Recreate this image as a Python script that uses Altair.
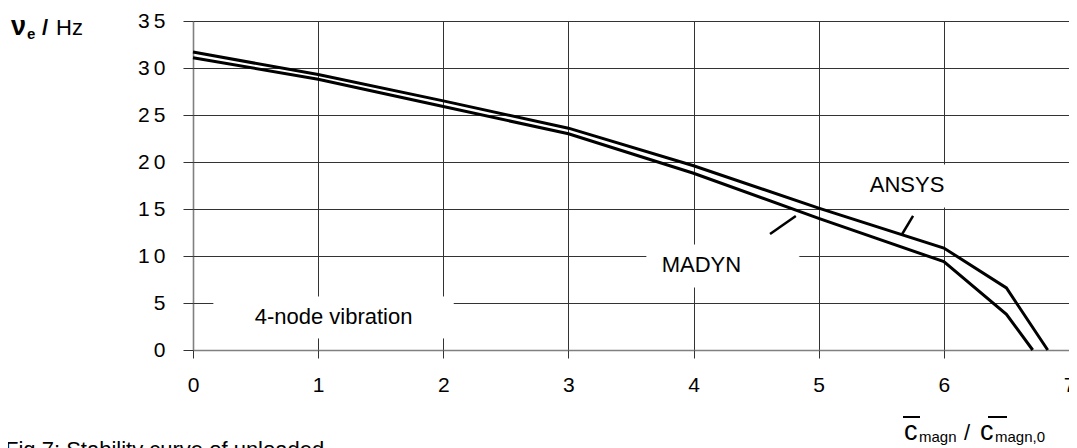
import altair as alt
import pandas as pd

FONT = "Liberation Sans"

# --- data ---
x_ansys = [0, 1, 2, 3, 4, 5, 6, 6.5, 6.79, 6.83]
y_ansys = [31.7, 29.3, 26.5, 23.6, 19.6, 15.1, 10.85, 6.6, 0.8, 0.0]
x_madyn = [0, 1, 2, 3, 4, 5, 6, 6.5, 6.71]
y_madyn = [31.1, 28.8, 25.9, 23.0, 18.8, 14.0, 9.4, 3.8, 0.0]

x_ticks = [0, 1, 2, 3, 4, 5, 6, 7]
y_ticks = [0, 5, 10, 15, 20, 25, 30, 35]

# annotations (data coordinates)
label_text = ["ANSYS", "MADYN", "4-node vibration"]
label_x = [5.706, 4.063, 1.123]
label_y = [17.55, 8.99, 3.46]

box_x1 = [5.29, 3.627, 0.167]
box_x2 = [6.33, 4.841, 2.079]
box_y1 = [15.21, 6.70, 1.28]
box_y2 = [19.68, 11.17, 5.64]

leader_x1 = [5.754, 4.817]
leader_y1 = [14.26, 14.26]
leader_x2 = [5.667, 4.611]
leader_y2 = [12.34, 12.34]

curves = pd.concat([
    pd.DataFrame({"x": x_ansys, "y": y_ansys, "s": "ANSYS"}),
    pd.DataFrame({"x": x_madyn, "y": y_madyn, "s": "MADYN"}),
])
boxes = pd.DataFrame({"x1": box_x1, "x2": box_x2, "y1": box_y1, "y2": box_y2})
leaders = pd.DataFrame({"x1": leader_x1, "y1": leader_y1, "x2": leader_x2, "y2": leader_y2})
labels = pd.DataFrame({"t": label_text, "x": label_x, "y": label_y})

gridcol = {"condition": {"test": "datum.value === 0", "value": "#808080"}, "value": "#333333"}
gridw = {"condition": {"test": "datum.value === 0", "value": 1.6}, "value": 1}

xs = alt.Scale(domain=[0, 7], nice=False, zero=False)
ys = alt.Scale(domain=[0, 35], nice=False, zero=False)

xaxis = alt.Axis(values=x_ticks, grid=True, gridColor=gridcol, gridWidth=gridw, domain=False,
                 tickSize=8, tickColor="#333333", labelFont=FONT, labelFontSize=21,
                 labelColor="black", labelPadding=16, labelFlush=False, title=None, format="d")
yaxis = alt.Axis(values=y_ticks, grid=True, gridColor=gridcol, gridWidth=gridw, domain=False,
                 tickSize=10, tickColor="#333333", labelFont=FONT, labelFontSize=21,
                 labelColor="black", labelPadding=18, labelFlush=False, title=None,
                 labelExpr="join(split(datum.label, ''), '\u2009')")

base_lines = alt.Chart(curves).mark_line(strokeWidth=3, color="black").encode(
    x=alt.X("x:Q", scale=xs, axis=xaxis),
    y=alt.Y("y:Q", scale=ys, axis=yaxis),
    detail="s:N",
)

rects = alt.Chart(boxes).mark_rect(fill="white", stroke="white").encode(
    x=alt.X("x1:Q", scale=xs), x2="x2:Q",
    y=alt.Y("y1:Q", scale=ys), y2="y2:Q",
)

leader_rules = alt.Chart(leaders).mark_rule(strokeWidth=2.5, color="black").encode(
    x=alt.X("x1:Q", scale=xs), y=alt.Y("y1:Q", scale=ys), x2="x2:Q", y2="y2:Q",
)

text_labels = alt.Chart(labels).mark_text(font=FONT, fontSize=22, color="black",
                                          align="center", baseline="middle").encode(
    x=alt.X("x:Q", scale=xs), y=alt.Y("y:Q", scale=ys), text="t:N",
)


def piece(txt, px, py, size, weight="normal"):
    return alt.Chart(pd.DataFrame({"t": [txt]})).mark_text(
        font=FONT, fontSize=size, fontWeight=weight, align="left",
        baseline="alphabetic", color="black").encode(
        x=alt.value(px), y=alt.value(py), text="t:N")


def overline(px1, px2, py):
    return alt.Chart(pd.DataFrame({"t": [0]})).mark_rule(strokeWidth=2, color="black").encode(
        x=alt.value(px1), x2=alt.value(px2), y=alt.value(py), y2=alt.value(py))


titles = [
    piece("\u03bd", -182, 14, 27, "bold"),
    piece("e", -166, 18, 15, "bold"),
    piece("/", -151, 14, 22, "bold"),
    piece("Hz", -137, 14, 22),
    piece("c", 711, 419, 27),
    piece("magn", 726, 421, 15),
    piece("/", 771, 419, 22),
    piece("c", 787, 419, 27),
    piece("magn,0", 802, 421, 15),
    overline(710, 727, 396),
    overline(795, 814, 396),
    piece("Fig.7: Stability curve of unloaded", -188, 436, 22),
]

chart = alt.layer(rects, base_lines, leader_rules, text_labels, *titles).properties(
    width=876, height=329,
    padding={"left": 185, "top": 13, "right": 0, "bottom": 98},
    autosize=alt.AutoSizeParams(type="none"),
    background="white",
).configure_view(stroke="transparent")

chart.save("out.html", embed_options={"renderer": "svg", "actions": False})
